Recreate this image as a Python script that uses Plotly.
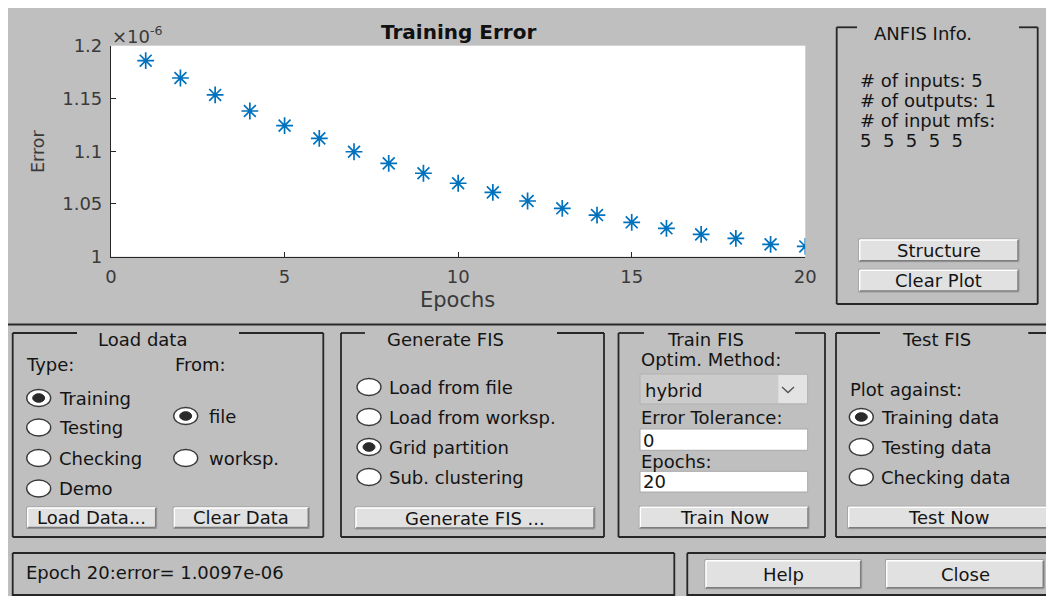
import plotly.graph_objects as go

# ---------------- data ----------------
epochs = list(range(1, 21))
error_x1e6 = [1.1858, 1.1694, 1.1533, 1.1381, 1.1242, 1.1122, 1.0995, 1.0885,
              1.0791, 1.0696, 1.0610, 1.0528, 1.0459, 1.0395, 1.0326, 1.0269,
              1.0212, 1.0174, 1.0117, 1.0097]
x_ticks = [0, 5, 10, 15, 20]
y_ticks = [1.0, 1.05, 1.1, 1.15, 1.2]
y_tick_text = ["1", "1.05", "1.1", "1.15", "1.2"]

# page body has an 8px margin: the figure is drawn at (8, 8)
OFF = 8
W, H = 1054 - OFF, 596 - OFF
BG = "#bfbfbf"
FONT = "DejaVu Sans"
TXT = "#141414"
FR = "#262626"

shapes = []
annots = []


def px(x):
    return (x - OFF) / W


def py(y):
    return 1 - (y - OFF) / H


def line(x0, y0, x1, y1, color=FR, width=1.8):
    shapes.append(dict(type="line", xref="paper", yref="paper",
                       x0=px(x0), y0=py(y0), x1=px(x1), y1=py(y1),
                       line=dict(color=color, width=width)))


def rect(x0, y0, x1, y1, fill, lc=None, lw=0):
    shapes.append(dict(type="rect", xref="paper", yref="paper",
                       x0=px(x0), y0=py(y0), x1=px(x1), y1=py(y1),
                       fillcolor=fill,
                       line=dict(color=lc if lc else fill, width=lw)))


def ellipse(x0, y0, x1, y1, fill, lc, lw):
    shapes.append(dict(type="circle", xref="paper", yref="paper",
                       x0=px(x0), y0=py(y0), x1=px(x1), y1=py(y1),
                       fillcolor=fill, line=dict(color=lc, width=lw)))


def text(x, y, s, size=18, anchor="left", bold=False, color=TXT, angle=0):
    if anchor == "left":
        x -= 2.5  # compensate annotation padding
    annots.append(dict(x=px(x), y=py(y), xref="paper", yref="paper",
                       text=s, showarrow=False, xanchor=anchor, yanchor="middle",
                       textangle=angle,
                       font=dict(family=FONT, size=size, color=color,
                                 weight="bold" if bold else "normal")))


def frame(x0, y0, x1, y1, g0, g1, title, tcx):
    line(x0, y0, g0, y0)
    line(g1, y0, x1, y0)
    line(x0, y0, x0, y1)
    line(x1, y0, x1, y1)
    line(x0, y1, x1, y1)
    text(tcx, y0 + 6.5, title, anchor="center")


def button(x0, y0, x1, y1, label):
    rect(x0, y0, x1, y1, "#e1e1e1", "#9a9a9a", 1)
    line(x0 + 1, y0 + 1, x1 - 1, y0 + 1, "#ffffff", 1.5)
    line(x0 + 1, y0 + 1, x0 + 1, y1 - 1, "#ffffff", 1.5)
    line(x0 + 1, y1 - 1, x1 - 1, y1 - 1, "#7d7d7d", 1.5)
    line(x1 - 1, y0 + 1, x1 - 1, y1 - 1, "#7d7d7d", 1.5)
    text((x0 + x1) / 2, (y0 + y1) / 2, label, anchor="center")


def radio(cx, cy, label, selected=False, lx=None):
    ellipse(cx - 12, cy - 8.5, cx + 12, cy + 8.5, "#ffffff", "#3a3a3a", 1.4)
    if selected:
        ellipse(cx - 6, cy - 4.3, cx + 6, cy + 4.3, "#2a2a2a", "#2a2a2a", 1)
    text(lx if lx is not None else cx + 20.5, cy, label)


# ---------------- separator ----------------
line(OFF, 324.5, 1054, 324.5, "#2a2a2a", 2)

# ---------------- ANFIS Info ----------------
frame(836.7, 27.3, 1037.7, 304, 857, 1019, "ANFIS Info.", 923)
info_lines = ["# of inputs: 5", "# of outputs: 1", "# of input mfs:",
              "5\u00a0\u00a05\u00a0\u00a05\u00a0\u00a05\u00a0\u00a05"]
for i, s in enumerate(info_lines):
    text(860, 80 + i * 20.3, s)
button(858.7, 239, 1019, 261.7, "Structure")
button(858.7, 269.3, 1019, 292, "Clear Plot")

# ---------------- Load data ----------------
frame(12.7, 333, 323.3, 537, 77, 239, "Load data", 142)
text(26.7, 364, "Type:")
text(175, 364, "From:")
radio(38.7, 398, "Training", True)
radio(38.7, 427.5, "Testing")
radio(38.7, 458, "Checking")
radio(38.7, 488.5, "Demo")
radio(185.7, 416, "file", True, lx=209.3)
radio(185.7, 458, "worksp.", False, lx=209.3)
button(26.7, 507, 156.7, 528.5, "Load Data...")
button(173.3, 507, 309.3, 528.5, "Clear Data")

# ---------------- Generate FIS ----------------
frame(341, 333, 604, 537, 365, 557, "Generate FIS", 445.5)
radio(369, 387, "Load from file")
radio(369, 417, "Load from worksp.")
radio(369, 447, "Grid partition", True)
radio(369, 477, "Sub. clustering")
button(355, 507, 595, 529, "Generate FIS ...")

# ---------------- Train FIS ----------------
frame(618.5, 333, 825, 537, 644, 795, "Train FIS", 705)
text(641.7, 359.7, "Optim. Method:")
rect(640, 374, 807.7, 404, "#cbcbcb", "#b2b2b2", 1)
rect(778.3, 375, 807, 403, "#e3e3e3")
text(645, 390, "hybrid")
shapes.append(dict(type="path", xref="paper", yref="paper",
                   path="M {} {} L {} {} L {} {}".format(px(782), py(387), px(788), py(392.5), px(794), py(387)),
                   line=dict(color="#505050", width=1.3)))
text(641.7, 417, "Error Tolerance:")
rect(640, 429, 807.7, 450.3, "#ffffff", "#a8a8a8", 1)
text(643.3, 440, "0")
text(641.7, 461.3, "Epochs:")
rect(640, 471.3, 807.7, 492, "#ffffff", "#a8a8a8", 1)
text(643, 481.5, "20")
button(639.3, 506.3, 809, 528.7, "Train Now")

# ---------------- Test FIS ----------------
frame(836, 333, 1062, 537, 880, 1028.3, "Test FIS", 936)
text(850, 389.7, "Plot against:")
radio(861.3, 417, "Training data", True)
radio(861.3, 447, "Testing data")
radio(861.3, 477, "Checking data")
button(847.7, 506.3, 1048.3, 528.7, "Test Now")

# ---------------- bottom boxes ----------------
for (x0, x1) in [(12.7, 674.3), (687.3, 1062)]:
    line(x0, 553, x1, 553)
    line(x0, 553, x0, 598)
    line(x1, 553, x1, 598)
    line(x0, 595, x1, 595)
text(26.7, 572, "Epoch 20:error= 1.0097e-06")
button(705, 559.7, 861.7, 588.7, "Help")
button(885.7, 559.7, 1044.3, 588.7, "Close")

# ---------------- axes texts ----------------
text(458.5, 32, "Training Error", size=20, anchor="center", bold=True, color="#111111")
text(457.5, 300, "Epochs", size=21, anchor="center", color="#3a3a3a")
text(38, 152, "Error", size=17.5, anchor="center", color="#3a3a3a", angle=-90)
text(112, 35, "\u00d710<sup>-6</sup>", size=18, anchor="left", color="#3a3a3a")

# ---------------- figure ----------------
fig = go.Figure()
fig.add_trace(go.Scatter(
    x=epochs, y=error_x1e6, mode="markers",
    marker=dict(symbol="asterisk-open", size=14, color="#0072BD",
                line=dict(color="#0072BD", width=1.7)),
    showlegend=False, hoverinfo="x+y"))

axis_common = dict(showgrid=False, zeroline=False, showline=True,
                   linecolor="#262626", linewidth=1.2, ticks="inside",
                   ticklen=5, tickcolor="#262626", mirror=False,
                   automargin=False,
                   tickfont=dict(family=FONT, size=18, color="#3a3a3a"))

fig.update_layout(
    width=W, height=H,
    margin=dict(l=0, r=0, t=0, b=0),
    paper_bgcolor=BG, plot_bgcolor="#ffffff",
    xaxis=dict(domain=[px(111), px(805.3)], range=[0, 20],
               tickvals=x_ticks, ticktext=[str(v) for v in x_ticks],
               ticklabelstandoff=4, **axis_common),
    yaxis=dict(domain=[py(256.7), py(45.7)], range=[1.0, 1.2],
               tickvals=y_ticks, ticktext=y_tick_text,
               ticklabelstandoff=4, **axis_common),
    shapes=shapes, annotations=annots,
    showlegend=False,
)

fig.write_html("out.html")
